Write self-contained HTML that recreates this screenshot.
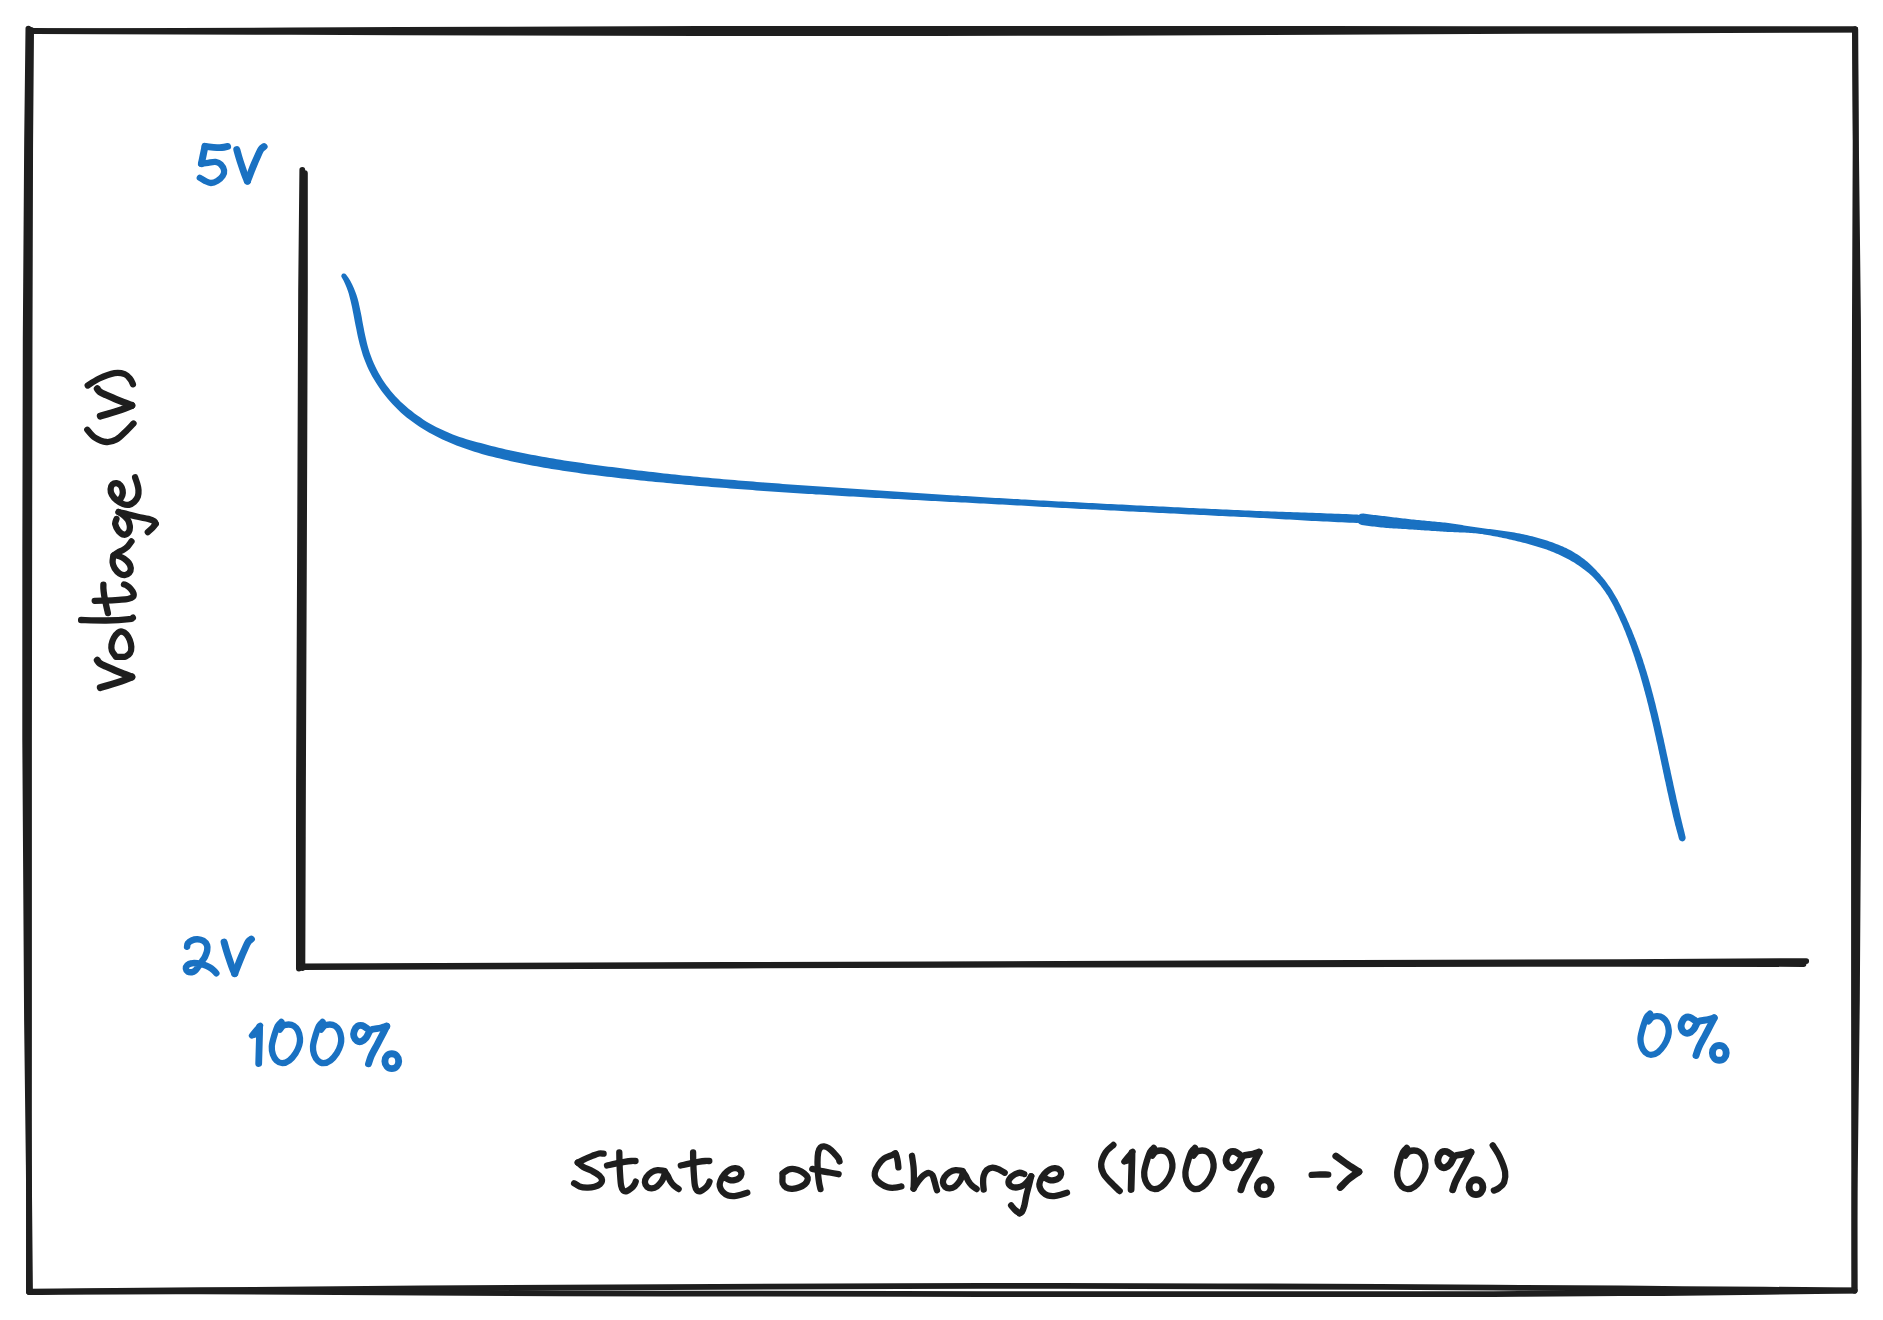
<!DOCTYPE html><html><head><meta charset="utf-8"><title>Voltage vs State of Charge</title><style>html,body{margin:0;padding:0;background:#fff;font-family:"Liberation Sans",sans-serif}body{width:1883px;height:1320px;overflow:hidden}svg{display:block}</style></head><body><svg width="1883" height="1320" viewBox="0 0 1883 1320" role="img" aria-label="Battery discharge curve: Voltage (V) from 5V to 2V versus State of Charge (100% -> 0%)"><rect width="1883" height="1320" fill="#fff"/><g fill="none" stroke="#1e1e1e" stroke-width="5.8" stroke-linecap="round" stroke-linejoin="round"><path d="M29 30.8C40.8 30.9 38.2 31.2 100 31.1C161.8 31 300 30.4 400 30C500 29.6 583.3 29.1 700 28.9C816.7 28.7 971 28.8 1100 28.8C1229 28.8 1348.2 29 1474 29.1C1599.8 29.2 1791.5 29.3 1855 29.3"/><path d="M29.6 31C41.3 31.1 38.3 31.1 100 31.3C161.7 31.5 300 32 400 32.3C500 32.6 583.3 33 700 33.1C816.7 33.2 971 33.1 1100 32.8C1229 32.5 1348.2 31.7 1474 31.1C1599.8 30.6 1791.5 29.8 1855 29.5"/><path d="M1854.9 29.3C1855 47.8 1855.6 91.6 1855.6 140C1855.6 188.4 1855.2 233.3 1854.9 320C1854.7 406.7 1854.2 546.7 1854.1 660C1853.9 773.3 1854 913.3 1854 1000C1854 1086.7 1854.2 1131.6 1854.2 1180C1854.2 1228.4 1854.3 1272 1854.3 1290.4"/><path d="M1855.3 29.5C1855.4 47.9 1855.5 91.6 1855.9 140C1856.4 188.4 1857.5 233.3 1858 320C1858.5 406.7 1859 546.7 1858.8 660C1858.6 773.3 1857.6 913.3 1856.9 1000C1856.2 1086.7 1855.2 1131.6 1854.8 1180C1854.4 1228.4 1854.7 1272.1 1854.7 1290.5"/><path d="M1854.5 1290.3C1825.9 1290.1 1722.1 1289.4 1683 1289.1C1643.9 1288.8 1647.2 1288.5 1620 1288.3C1592.8 1288.1 1560 1288.1 1520 1287.9C1480 1287.7 1456.7 1287.2 1380 1286.9C1303.3 1286.6 1140 1286 1060 1285.9C980 1285.8 983.3 1285.8 900 1286.1C816.7 1286.4 676.7 1286.9 560 1287.6C443.3 1288.3 288.5 1289.5 200 1290.2C111.5 1290.9 57.7 1291.4 29.2 1291.6"/><path d="M1854.5 1290.6C1825.9 1291 1722.1 1292.5 1683 1292.9C1643.9 1293.3 1647.2 1293 1620 1293.2C1592.8 1293.4 1560 1293.7 1520 1293.9C1480 1294.1 1456.7 1294.2 1380 1294.2C1303.3 1294.2 1140 1294.2 1060 1294.2C980 1294.2 983.3 1294.1 900 1293.9C816.7 1293.8 676.7 1293.7 560 1293.3C443.3 1292.9 288.5 1291.5 200 1291.3C111.5 1291.1 57.7 1291.9 29.2 1292"/><path d="M28.4 28.6C28.2 47.2 27.6 88.1 27.1 140C26.7 191.9 26 240 25.7 340C25.4 440 25 626.7 25.2 740C25.4 853.3 26.4 946.7 27 1020C27.6 1093.3 28.6 1134.7 28.9 1180C29.2 1225.3 28.9 1273.2 28.9 1291.8"/><path d="M31.1 30C31 48.3 30.4 88.3 30.2 140C29.9 191.7 29.8 240 29.6 340C29.4 440 29.1 626.7 29 740C28.9 853.3 29 946.7 29 1020C29 1093.3 28.8 1134.7 29 1180C29.2 1225.3 29.8 1273.2 30 1291.8"/><path d="M302.3 169.9C302.1 189.9 301.5 225 301.1 290C300.7 355 300.4 478.3 300 560C299.6 641.7 299.2 711.9 299 780C298.8 848.1 298.9 937.2 298.9 968.6"/><path d="M304.9 173.2C304.9 192.7 305.1 225.5 304.9 290C304.7 354.5 304.2 478.3 303.9 560C303.6 641.7 303.2 712 303 780C302.8 848 302.5 936.7 302.4 968"/><path d="M298.9 966.4C425.8 966 839.8 964.6 1060 963.9C1280.2 963.2 1495.6 962.6 1620 962.1C1744.4 961.6 1775.2 961.3 1806.2 961.1"/><path d="M299.4 967.1C426.2 966.7 839.9 965 1060 964.5C1280.1 964 1496.1 963.9 1620 963.8C1743.9 963.7 1772.9 964 1803.5 964"/></g><path fill="#1971c2" d="M341.8 277.5L343.5 280.6L345 283.8L346.4 287L347.6 290.3L348.7 293.6L349.6 297L350.5 300.5L351.3 304L352.1 307.6L352.8 311.2L353.5 314.8L354.2 318.5L354.9 322.2L355.6 325.8L356.4 329.6L357.1 333.3L357.9 337L358.8 340.7L359.7 344.4L360.7 348.1L361.8 351.8L362.9 355.4L364.2 359L365.6 362.6L367.1 366.2L368.7 369.7L370.4 373.1L372.2 376.5L374.2 379.8L376.2 383.1L378.3 386.3L380.5 389.5L382.7 392.6L385.1 395.6L387.5 398.6L390.1 401.5L392.6 404.3L395.3 407.1L398 409.8L400.8 412.4L403.7 415L406.6 417.4L409.7 419.8L412.8 422.1L415.9 424.3L419.1 426.4L422.3 428.5L425.6 430.4L428.9 432.4L432.3 434.3L435.6 436.1L439 437.8L442.5 439.5L446 441.1L449.5 442.6L453 444L456.5 445.4L460.1 446.8L463.6 448.1L467.2 449.3L470.8 450.5L474.4 451.7L478.1 452.8L481.7 453.9L485.3 454.9L489 455.9L492.6 456.8L496.3 457.7L499.9 458.6L503.6 459.5L507.3 460.3L510.9 461.2L514.6 462L518.3 462.7L522 463.5L525.7 464.2L529.4 465L533.1 465.7L536.7 466.3L540.4 467L544.1 467.7L547.8 468.3L551.6 468.9L555.3 469.5L559 470.1L562.7 470.7L566.4 471.2L570.1 471.8L573.8 472.3L577.5 472.8L581.2 473.4L585 473.9L588.7 474.4L592.4 474.8L596.1 475.3L599.8 475.8L603.5 476.2L607.3 476.7L611 477.1L614.7 477.6L618.4 478L622.1 478.4L625.8 478.8L629.6 479.2L633.3 479.6L637 480L640.7 480.4L644.5 480.8L648.2 481.2L651.9 481.5L655.6 481.9L659.4 482.3L663.1 482.6L666.8 483L670.5 483.3L674.3 483.7L678 484L681.7 484.3L685.4 484.7L689.1 485L692.9 485.3L696.6 485.7L700.3 486L704.1 486.3L707.8 486.6L711.5 486.9L715.2 487.2L719 487.5L722.7 487.8L726.4 488.1L730.1 488.4L733.9 488.7L737.6 489L741.3 489.3L745 489.6L748.8 489.8L752.5 490.1L756.2 490.4L760 490.7L763.7 490.9L767.4 491.2L771.2 491.4L774.9 491.7L778.6 491.9L782.3 492.2L786.1 492.4L789.8 492.7L793.5 492.9L797.3 493.2L801 493.4L804.7 493.7L808.4 493.9L812.2 494.1L815.9 494.4L819.6 494.6L823.4 494.8L827.1 495L830.8 495.3L834.6 495.5L838.3 495.7L842 495.9L845.7 496.2L849.5 496.4L853.2 496.6L856.9 496.8L860.7 497L864.4 497.2L868.1 497.4L871.9 497.7L875.6 497.9L879.3 498.1L883 498.3L886.8 498.5L890.5 498.7L894.2 498.9L898 499.1L901.7 499.3L905.4 499.5L909.2 499.7L912.9 499.9L916.6 500.1L920.4 500.3L924.1 500.5L927.8 500.7L931.5 500.9L935.3 501.1L939 501.3L942.7 501.5L946.5 501.7L950.2 501.9L953.9 502L957.7 502.2L961.4 502.4L965.1 502.6L968.9 502.8L972.6 503L976.3 503.2L980 503.4L983.8 503.6L987.5 503.8L991.2 504L995 504.2L998.7 504.4L1002.4 504.6L1006.2 504.8L1009.9 505L1013.6 505.2L1017.3 505.4L1021.1 505.6L1024.8 505.8L1028.5 506.1L1032.3 506.3L1036 506.5L1039.7 506.7L1043.5 506.9L1047.2 507.1L1050.9 507.3L1054.6 507.5L1058.4 507.7L1062.1 507.9L1065.8 508.1L1069.6 508.3L1073.3 508.5L1077 508.7L1080.8 508.9L1084.5 509.1L1088.2 509.3L1091.9 509.4L1095.7 509.6L1099.4 509.8L1103.1 510L1106.9 510.2L1110.6 510.4L1114.3 510.6L1118.1 510.8L1121.8 511L1125.5 511.2L1129.2 511.4L1133 511.6L1136.7 511.8L1140.4 511.9L1144.2 512.1L1147.9 512.3L1151.6 512.5L1155.4 512.7L1159.1 512.9L1162.8 513.1L1166.6 513.3L1170.3 513.5L1174 513.6L1177.7 513.8L1181.5 514L1185.2 514.2L1188.9 514.4L1192.7 514.6L1196.4 514.8L1200.1 514.9L1203.9 515.1L1207.6 515.3L1211.3 515.5L1215.1 515.7L1218.8 515.9L1222.5 516L1226.2 516.2L1230 516.4L1233.7 516.6L1237.4 516.8L1241.2 517L1244.9 517.1L1248.6 517.3L1252.4 517.5L1256.1 517.7L1259.8 517.9L1263.6 518.1L1267.3 518.3L1271 518.5L1274.7 518.7L1278.5 518.9L1282.2 519.2L1285.9 519.4L1289.7 519.6L1293.4 519.8L1297.1 520L1300.9 520.3L1304.6 520.5L1308.3 520.7L1312 520.9L1315.8 521.1L1319.5 521.3L1323.2 521.4L1327 521.6L1330.7 521.8L1334.4 522L1338.2 522.2L1341.9 522.3L1345.6 522.5L1349.4 522.7L1353.1 522.8L1356.8 523L1358.7 522.7L1360.2 521.6L1361.1 519.9L1361.1 518L1360.4 516.3L1359 515.1L1357.2 514.6L1353.5 514.4L1349.7 514.3L1346 514.1L1342.3 514L1338.5 513.8L1334.8 513.7L1331.1 513.5L1327.3 513.4L1323.6 513.2L1319.9 513.1L1316.1 512.9L1312.4 512.8L1308.7 512.7L1304.9 512.5L1301.2 512.4L1297.5 512.3L1293.7 512.2L1290 512.1L1286.3 511.9L1282.5 511.8L1278.8 511.7L1275.1 511.6L1271.3 511.5L1267.6 511.3L1263.9 511.2L1260.1 511.1L1256.4 510.9L1252.7 510.7L1248.9 510.6L1245.2 510.4L1241.5 510.2L1237.8 510.1L1234 509.9L1230.3 509.8L1226.6 509.6L1222.8 509.4L1219.1 509.2L1215.4 509.1L1211.6 508.9L1207.9 508.7L1204.2 508.6L1200.4 508.4L1196.7 508.2L1193 508L1189.3 507.9L1185.5 507.7L1181.8 507.5L1178.1 507.3L1174.3 507.2L1170.6 507L1166.9 506.8L1163.1 506.6L1159.4 506.4L1155.7 506.3L1152 506.1L1148.2 505.9L1144.5 505.7L1140.8 505.5L1137 505.4L1133.3 505.2L1129.6 505L1125.8 504.8L1122.1 504.6L1118.4 504.4L1114.7 504.2L1110.9 504L1107.2 503.9L1103.5 503.7L1099.7 503.5L1096 503.3L1092.3 503.1L1088.5 502.9L1084.8 502.7L1081.1 502.5L1077.4 502.3L1073.6 502.1L1069.9 501.9L1066.2 501.7L1062.4 501.5L1058.7 501.4L1055 501.2L1051.3 501L1047.5 500.8L1043.8 500.6L1040.1 500.4L1036.3 500.2L1032.6 500L1028.9 499.8L1025.1 499.6L1021.4 499.4L1017.7 499.1L1014 498.9L1010.2 498.7L1006.5 498.5L1002.8 498.3L999 498.1L995.3 497.9L991.6 497.7L987.9 497.5L984.1 497.3L980.4 497L976.7 496.8L972.9 496.6L969.2 496.3L965.5 496.1L961.8 495.9L958 495.6L954.3 495.4L950.6 495.2L946.9 494.9L943.1 494.7L939.4 494.5L935.7 494.2L931.9 494L928.2 493.8L924.5 493.5L920.8 493.3L917 493L913.3 492.8L909.6 492.5L905.9 492.3L902.1 492L898.4 491.8L894.7 491.5L891 491.3L887.2 491L883.5 490.8L879.8 490.5L876.1 490.3L872.3 490L868.6 489.8L864.9 489.5L861.1 489.3L857.4 489L853.7 488.8L850 488.5L846.2 488.3L842.5 488L838.8 487.8L835.1 487.5L831.3 487.3L827.6 487L823.9 486.8L820.2 486.5L816.4 486.3L812.7 486L809 485.8L805.3 485.5L801.5 485.2L797.8 485L794.1 484.7L790.4 484.4L786.6 484.2L782.9 483.9L779.2 483.6L775.5 483.3L771.8 483.1L768 482.8L764.3 482.5L760.6 482.2L756.9 481.9L753.2 481.6L749.4 481.3L745.7 481L742 480.7L738.3 480.4L734.6 480.1L730.8 479.8L727.1 479.5L723.4 479.2L719.7 478.8L716 478.5L712.3 478.2L708.5 477.8L704.8 477.5L701.1 477.2L697.4 476.8L693.7 476.5L690 476.1L686.3 475.7L682.6 475.4L678.9 475L675.1 474.6L671.4 474.2L667.7 473.8L664 473.4L660.3 473L656.6 472.6L652.9 472.1L649.2 471.7L645.5 471.3L641.8 470.8L638.1 470.4L634.4 469.9L630.7 469.5L627 469L623.3 468.6L619.6 468.1L615.9 467.6L612.2 467.1L608.5 466.7L604.8 466.2L601.1 465.7L597.4 465.2L593.7 464.7L590.1 464.2L586.4 463.7L582.7 463.1L579 462.6L575.3 462L571.6 461.5L568 460.9L564.3 460.4L560.6 459.8L556.9 459.2L553.3 458.6L549.6 458L545.9 457.3L542.3 456.7L538.6 456L535 455.3L531.3 454.7L527.7 453.9L524.1 453.2L520.4 452.5L516.8 451.7L513.2 451L509.6 450.2L505.9 449.4L502.3 448.5L498.7 447.7L495.1 446.8L491.5 445.9L487.9 445L484.4 444.1L480.8 443.1L477.2 442.2L473.7 441.2L470.1 440.2L466.6 439.2L463.1 438.1L459.6 436.9L456.2 435.7L452.8 434.4L449.4 433L446 431.6L442.7 430.1L439.4 428.6L436.1 427L432.9 425.3L429.7 423.5L426.6 421.7L423.5 419.7L420.5 417.6L417.5 415.5L414.6 413.4L411.7 411.1L408.9 408.9L406.1 406.5L403.3 404.1L400.7 401.7L398.1 399.1L395.6 396.5L393.2 393.8L390.8 391L388.6 388.1L386.4 385.2L384.3 382.2L382.3 379.2L380.4 376.1L378.6 372.9L376.9 369.7L375.3 366.5L373.8 363.2L372.4 359.9L371.1 356.5L369.8 353.1L368.7 349.6L367.7 346.1L366.8 342.6L366 339L365.2 335.4L364.4 331.8L363.7 328.1L363 324.5L362.3 320.8L361.7 317.1L361 313.4L360.2 309.7L359.4 306L358.6 302.3L357.6 298.6L356.5 295L355.2 291.4L353.8 287.9L352.2 284.4L350.4 281L348.4 277.7L346 274.5L345.2 273.7L344.1 273.4L342.9 273.6L342 274.2L341.4 275.2L341.3 276.4Z"/><path fill="#1971c2" d="M1361.7 525L1363.5 525.3L1365.2 525.5L1367 525.8L1368.8 526L1370.5 526.2L1372.3 526.4L1374.1 526.6L1375.8 526.8L1377.6 527L1379.3 527.2L1381.1 527.4L1382.9 527.6L1384.6 527.7L1386.4 527.9L1388.1 528L1389.9 528.2L1391.7 528.3L1393.4 528.4L1395.2 528.5L1396.9 528.6L1398.7 528.7L1400.5 528.8L1402.2 528.9L1404 529L1405.7 529.1L1407.5 529.3L1409.2 529.4L1411 529.5L1412.7 529.6L1414.5 529.7L1416.2 529.8L1418 530L1419.7 530.1L1421.4 530.2L1423.2 530.3L1424.9 530.4L1426.7 530.5L1428.4 530.6L1430.2 530.8L1431.9 530.9L1433.6 531L1435.4 531.1L1437.1 531.2L1438.8 531.3L1440.6 531.4L1442.3 531.5L1444.1 531.7L1445.8 531.8L1447.5 531.9L1449.3 532L1451 532.1L1452.7 532.1L1454.5 532.2L1456.2 532.3L1458 532.3L1459.7 532.4L1461.4 532.5L1463.2 532.5L1464.9 532.6L1466.7 532.7L1468.4 532.8L1470.1 532.9L1471.9 533L1473.6 533.2L1475.3 533.3L1477.1 533.5L1478.8 533.7L1480.5 533.9L1482.2 534.1L1483.9 534.4L1485.7 534.7L1487.4 535L1489.1 535.2L1490.8 535.6L1492.5 535.9L1494.2 536.2L1495.9 536.5L1497.6 536.8L1499.4 537.2L1501.1 537.5L1502.8 537.9L1504.5 538.2L1506.2 538.6L1507.9 539L1509.6 539.4L1511.3 539.8L1513 540.2L1514.7 540.6L1516.4 541L1518.1 541.4L1519.8 541.8L1521.5 542.3L1523.2 542.7L1524.9 543.1L1526.6 543.5L1528.3 544L1529.9 544.4L1531.6 544.9L1533.3 545.4L1535 545.9L1536.7 546.4L1538.3 546.9L1540 547.4L1541.6 547.9L1543.3 548.5L1544.9 549L1546.6 549.6L1548.2 550.2L1549.8 550.8L1551.4 551.4L1553 552.1L1554.6 552.7L1556.1 553.4L1557.7 554.1L1559.2 554.8L1560.8 555.5L1562.3 556.2L1563.8 557L1565.3 557.7L1566.8 558.5L1568.3 559.3L1569.7 560.1L1571.2 560.9L1572.6 561.8L1574.1 562.6L1575.5 563.5L1576.9 564.4L1578.2 565.3L1579.6 566.3L1581 567.2L1582.3 568.2L1583.7 569.2L1585 570.2L1586.3 571.2L1587.6 572.3L1588.9 573.3L1590.2 574.5L1591.4 575.6L1592.7 576.7L1593.9 577.9L1595 579.2L1596.2 580.4L1597.3 581.7L1598.4 583L1599.5 584.3L1600.6 585.6L1601.6 586.9L1602.6 588.3L1603.6 589.7L1604.6 591.1L1605.6 592.5L1606.5 593.9L1607.5 595.3L1608.4 596.8L1609.2 598.2L1610.1 599.7L1610.9 601.2L1611.8 602.7L1612.6 604.2L1613.4 605.8L1614.2 607.3L1614.9 608.9L1615.7 610.4L1616.5 612L1617.2 613.6L1617.9 615.1L1618.7 616.7L1619.4 618.3L1620.1 619.9L1620.8 621.5L1621.5 623L1622.2 624.6L1622.9 626.2L1623.5 627.8L1624.2 629.4L1624.9 631L1625.5 632.6L1626.1 634.3L1626.8 635.9L1627.4 637.5L1628 639.1L1628.6 640.7L1629.2 642.4L1629.8 644L1630.4 645.6L1631 647.2L1631.6 648.9L1632.1 650.5L1632.7 652.2L1633.3 653.8L1633.8 655.4L1634.4 657.1L1634.9 658.7L1635.4 660.4L1636 662L1636.5 663.7L1637 665.3L1637.5 667L1638.1 668.7L1638.6 670.3L1639.1 672L1639.6 673.6L1640.1 675.3L1640.6 677L1641 678.6L1641.5 680.3L1642 682L1642.5 683.7L1642.9 685.3L1643.4 687L1643.9 688.7L1644.3 690.4L1644.8 692.1L1645.2 693.7L1645.7 695.4L1646.1 697.1L1646.6 698.8L1647 700.5L1647.4 702.2L1647.9 703.9L1648.3 705.6L1648.7 707.3L1649.1 709L1649.5 710.7L1650 712.4L1650.4 714.1L1650.8 715.8L1651.2 717.5L1651.6 719.2L1652 720.9L1652.4 722.6L1652.8 724.3L1653.2 726L1653.6 727.7L1654 729.4L1654.3 731.1L1654.7 732.8L1655.1 734.5L1655.5 736.3L1655.9 738L1656.2 739.7L1656.6 741.4L1657 743.1L1657.4 744.8L1657.8 746.5L1658.1 748.3L1658.5 750L1658.9 751.7L1659.2 753.4L1659.6 755.1L1660 756.8L1660.3 758.6L1660.7 760.3L1661.1 762L1661.4 763.7L1661.8 765.4L1662.2 767.2L1662.5 768.9L1662.9 770.6L1663.2 772.3L1663.6 774L1664 775.8L1664.3 777.5L1664.7 779.2L1665.1 780.9L1665.5 782.6L1665.8 784.3L1666.2 786.1L1666.6 787.8L1666.9 789.5L1667.3 791.2L1667.7 792.9L1668.1 794.6L1668.5 796.4L1668.8 798.1L1669.2 799.8L1669.6 801.5L1670 803.2L1670.4 804.9L1670.8 806.6L1671.2 808.3L1671.6 810L1672 811.8L1672.4 813.5L1672.8 815.2L1673.2 816.9L1673.6 818.6L1674 820.3L1674.5 822L1674.9 823.7L1675.3 825.4L1675.8 827.1L1676.2 828.8L1676.7 830.4L1677.1 832.1L1677.6 833.8L1678.1 835.5L1678.5 837.2L1679 838.9L1679.7 840.2L1680.9 841.1L1682.4 841.4L1683.9 841L1685 840L1685.6 838.6L1685.6 837.1L1685.2 835.4L1684.8 833.8L1684.4 832.1L1684 830.4L1683.6 828.7L1683.1 827L1682.7 825.3L1682.3 823.6L1681.9 821.9L1681.5 820.2L1681.1 818.6L1680.7 816.9L1680.3 815.2L1679.9 813.5L1679.5 811.8L1679.2 810.1L1678.8 808.4L1678.4 806.7L1678 805L1677.6 803.3L1677.2 801.6L1676.8 799.9L1676.4 798.2L1676.1 796.5L1675.7 794.7L1675.3 793L1674.9 791.3L1674.5 789.6L1674.2 787.9L1673.8 786.2L1673.4 784.5L1673.1 782.8L1672.7 781.1L1672.3 779.3L1671.9 777.6L1671.6 775.9L1671.2 774.2L1670.8 772.5L1670.5 770.8L1670.1 769.1L1669.7 767.3L1669.3 765.6L1669 763.9L1668.6 762.2L1668.2 760.5L1667.9 758.7L1667.5 757L1667.1 755.3L1666.7 753.6L1666.4 751.9L1666 750.1L1665.6 748.4L1665.3 746.7L1664.9 745L1664.5 743.3L1664.1 741.5L1663.8 739.8L1663.4 738.1L1663 736.4L1662.6 734.7L1662.2 732.9L1661.8 731.2L1661.5 729.5L1661.1 727.8L1660.7 726.1L1660.3 724.4L1659.9 722.6L1659.5 720.9L1659.1 719.2L1658.7 717.5L1658.3 715.8L1657.9 714.1L1657.5 712.4L1657 710.6L1656.6 708.9L1656.2 707.2L1655.8 705.5L1655.4 703.8L1654.9 702.1L1654.5 700.4L1654.1 698.7L1653.6 697L1653.2 695.3L1652.7 693.6L1652.3 691.9L1651.8 690.2L1651.4 688.5L1650.9 686.8L1650.4 685.1L1650 683.4L1649.5 681.7L1649 680L1648.5 678.3L1648 676.6L1647.5 674.9L1647 673.2L1646.5 671.6L1646 669.9L1645.4 668.2L1644.9 666.5L1644.4 664.8L1643.8 663.2L1643.3 661.5L1642.8 659.8L1642.2 658.1L1641.6 656.5L1641.1 654.8L1640.5 653.2L1639.9 651.5L1639.3 649.8L1638.7 648.2L1638.1 646.5L1637.5 644.9L1636.9 643.2L1636.3 641.6L1635.6 639.9L1635 638.3L1634.3 636.7L1633.7 635L1633 633.4L1632.4 631.8L1631.7 630.1L1631 628.5L1630.3 626.9L1629.6 625.3L1628.9 623.6L1628.2 622L1627.5 620.4L1626.8 618.8L1626.1 617.2L1625.3 615.6L1624.6 614L1623.8 612.4L1623.1 610.8L1622.3 609.2L1621.5 607.6L1620.8 606L1620 604.4L1619.1 602.8L1618.3 601.2L1617.5 599.6L1616.6 598.1L1615.7 596.5L1614.8 594.9L1613.9 593.4L1613 591.9L1612 590.3L1611 588.8L1610 587.3L1609 585.9L1607.9 584.4L1606.9 582.9L1605.8 581.5L1604.7 580.1L1603.6 578.7L1602.4 577.3L1601.2 575.9L1600.1 574.6L1598.9 573.3L1597.6 571.9L1596.4 570.6L1595.2 569.3L1593.9 568L1592.7 566.7L1591.4 565.5L1590.1 564.2L1588.7 563L1587.4 561.8L1586 560.7L1584.6 559.5L1583.2 558.4L1581.7 557.4L1580.2 556.3L1578.7 555.3L1577.2 554.3L1575.7 553.4L1574.2 552.4L1572.6 551.5L1571 550.6L1569.4 549.8L1567.8 548.9L1566.2 548.1L1564.6 547.4L1562.9 546.6L1561.3 545.9L1559.6 545.2L1557.9 544.5L1556.2 543.9L1554.5 543.2L1552.8 542.6L1551.1 542L1549.4 541.4L1547.7 540.8L1546 540.3L1544.3 539.7L1542.5 539.2L1540.8 538.7L1539 538.2L1537.3 537.7L1535.6 537.2L1533.8 536.8L1532.1 536.3L1530.3 535.9L1528.6 535.5L1526.8 535.1L1525.1 534.7L1523.3 534.3L1521.6 533.9L1519.8 533.6L1518 533.2L1516.3 532.9L1514.5 532.6L1512.8 532.3L1511 532L1509.3 531.7L1507.5 531.5L1505.8 531.2L1504 530.9L1502.2 530.7L1500.5 530.4L1498.7 530.2L1497 530L1495.2 529.7L1493.5 529.5L1491.7 529.3L1490 529.1L1488.2 528.9L1486.5 528.7L1484.8 528.5L1483 528.3L1481.3 528L1479.5 527.8L1477.8 527.6L1476 527.3L1474.3 527.1L1472.6 526.8L1470.8 526.5L1469.1 526.2L1467.4 526L1465.7 525.7L1463.9 525.4L1462.2 525.1L1460.5 524.8L1458.7 524.5L1457 524.2L1455.3 524L1453.5 523.7L1451.8 523.5L1450.1 523.2L1448.3 523L1446.6 522.8L1444.8 522.6L1443.1 522.4L1441.4 522.3L1439.6 522.1L1437.9 521.9L1436.1 521.7L1434.4 521.6L1432.7 521.4L1430.9 521.2L1429.2 521L1427.4 520.9L1425.7 520.7L1424 520.5L1422.2 520.4L1420.5 520.2L1418.8 520L1417 519.9L1415.3 519.7L1413.5 519.5L1411.8 519.4L1410.1 519.2L1408.3 519L1406.6 518.8L1404.9 518.6L1403.1 518.4L1401.4 518.2L1399.7 518L1397.9 517.8L1396.2 517.6L1394.5 517.4L1392.7 517.2L1391 517L1389.3 516.7L1387.5 516.5L1385.8 516.3L1384.1 516.1L1382.4 515.9L1380.6 515.7L1378.9 515.5L1377.2 515.3L1375.4 515.1L1373.7 514.9L1372 514.7L1370.2 514.5L1368.5 514.2L1366.8 514L1365 513.8L1363.3 513.6L1360.7 513.8L1358.5 515.1L1357.1 517.2L1356.7 519.8L1357.5 522.3L1359.3 524.1Z"/><g fill="none" color="#1971c2" stroke="#1971c2" stroke-width="6.3" stroke-linecap="round" stroke-linejoin="round"><path d="M227.7 146.4C226.7 146.6 224.2 147.3 221.8 147.5C219.5 147.7 216.4 147.5 213.6 147.3C210.8 147.1 206.4 146.6 205 146.4" stroke-width="6.8"/><path d="M205 146.4C204.7 147.8 203.8 152.1 203.2 155C202.6 157.9 201.7 162.2 201.4 163.6" stroke-width="7"/><path d="M201.4 163.6C202.5 163.5 205.8 163.1 208.2 162.8C210.5 162.5 213.4 161.6 215.5 161.9C217.6 162.2 219.5 163.1 220.9 164.5C222.3 165.9 223.8 168.6 224.1 170.5C224.4 172.4 223.8 174.2 222.7 175.9C221.6 177.6 219.3 179.7 217.3 180.9C215.3 182.1 213 183 210.9 183C208.8 183 206.8 181.8 205 180.9C203.2 180 200.7 178.2 199.8 177.7" stroke-width="6.3"/><path d="M236.8 149.6C237.1 150.7 237.9 153.7 238.7 156.4C239.5 159.1 240.7 162.9 241.7 165.9C242.7 168.9 243.8 172.1 244.7 174.6C245.6 177.1 246.9 180 247.4 181.1" stroke-width="7"/><path d="M247.4 181.1C247.9 179.8 249.3 176.3 250.4 173.5C251.5 170.7 252.9 167 254.2 164C255.5 161 256.9 157.8 258 155.3C259.1 152.8 260 150.6 261 149.2C262 147.8 263.6 147 264.1 146.6" stroke-width="7"/></g><g fill="none" color="#1971c2" stroke="#1971c2" stroke-width="6.3" stroke-linecap="round" stroke-linejoin="round"><path d="M187.1 946.7C187.2 946.1 187.1 944.3 187.9 943.3C188.7 942.2 190.1 941.1 191.7 940.4C193.3 939.7 195.6 939.1 197.5 939.2C199.4 939.3 201.7 939.8 203.3 940.8C204.9 941.8 206.5 943.7 207.1 945.4C207.7 947.1 207.4 948.9 207.1 950.8C206.8 952.7 205.9 954.9 205 956.7C204.1 958.5 202.8 960 201.7 961.7C200.6 963.4 199.4 965.2 198.3 966.7C197.2 968.2 196.1 969.9 195 970.8C193.9 971.7 192.9 972.1 191.7 972.3C190.5 972.4 188.9 972.3 187.9 971.7C186.9 971.1 186 969.8 185.9 968.8C185.8 967.8 186.1 966.3 187.1 965.4C188.1 964.5 190 963.6 191.7 963.3C193.4 962.9 195.6 963.1 197.5 963.3C199.4 963.5 201.4 964 203.3 964.6C205.2 965.2 207.4 966.1 209.2 967.1C210.9 968.1 212.6 969.4 213.8 970.4C215 971.4 215.9 972.8 216.3 973.3" stroke-width="6.5"/><path d="M224.1 942.1C224.4 943.2 225.2 946.2 226 948.9C226.8 951.6 228 955.4 229 958.4C230 961.4 231.1 964.6 232 967.1C232.9 969.6 234.2 972.5 234.7 973.6" stroke-width="7"/><path d="M234.7 973.6C235.2 972.3 236.6 968.9 237.7 966C238.8 963.1 240.2 959.5 241.5 956.5C242.8 953.5 244.2 950.3 245.3 947.8C246.4 945.3 247.3 943.2 248.3 941.7C249.3 940.2 250.9 939.5 251.4 939.1" stroke-width="7"/></g><g fill="none" color="#1971c2" stroke="#1971c2" stroke-width="6.3" stroke-linecap="round" stroke-linejoin="round"><path d="M260.4 1025.4C259.5 1026.3 256.7 1029.3 255.2 1031C253.7 1032.7 252.2 1034.9 251.6 1035.7" stroke-width="5.6"/><path d="M259.6 1026.6C259.6 1029.2 259.5 1036.1 259.3 1042.3C259.1 1048.5 258.8 1060 258.7 1063.5" stroke-width="6.8"/><path d="M260.5 1023.5L250.2 1036L253.5 1038.2L258 1037L261.5 1030Z" stroke="none" fill="currentColor"/><path d="M281.4 1021.9C280.8 1022.6 278.9 1023.6 277.7 1025.9C276.5 1028.2 275.3 1032.1 274.3 1035.5C273.3 1038.9 272 1043.2 271.8 1046.4C271.6 1049.6 272.1 1052.2 272.9 1054.5C273.7 1056.8 274.9 1059 276.5 1060.5C278.1 1062 280.1 1063.2 282.2 1063.2C284.3 1063.2 287.1 1062.2 289.3 1060.5C291.5 1058.8 293.9 1055.8 295.6 1053.2C297.3 1050.6 298.6 1047.5 299.3 1045C300 1042.5 300.2 1040.6 300 1038.2C299.8 1035.8 298.9 1032.5 297.9 1030.5C296.9 1028.5 295.4 1026.9 293.8 1025.9C292.2 1024.9 290.3 1024.5 288.6 1024.5C286.9 1024.5 284.9 1024.8 283.5 1025.6C282.1 1026.4 280.5 1028.9 279.9 1029.6"/><path d="M322.6 1021.9C322 1022.6 320.1 1023.6 318.9 1025.9C317.7 1028.2 316.5 1032.1 315.5 1035.5C314.5 1038.9 313.2 1043.2 313 1046.4C312.8 1049.6 313.3 1052.2 314.1 1054.5C314.9 1056.8 316.1 1059 317.7 1060.5C319.2 1062 321.3 1063.2 323.4 1063.2C325.5 1063.2 328.3 1062.2 330.5 1060.5C332.7 1058.8 335.1 1055.8 336.8 1053.2C338.5 1050.6 339.8 1047.5 340.5 1045C341.2 1042.5 341.4 1040.6 341.2 1038.2C341 1035.8 340.1 1032.5 339.1 1030.5C338.1 1028.5 336.6 1026.9 335 1025.9C333.4 1024.9 331.5 1024.5 329.8 1024.5C328.1 1024.5 326.1 1024.8 324.7 1025.6C323.2 1026.4 321.7 1028.9 321.1 1029.6"/><path d="M367.3 1028.6C366.5 1028.1 364 1026 362.4 1025.6C360.8 1025.2 359 1025.3 357.6 1026.2C356.2 1027.1 354.8 1029.4 354.2 1031.1C353.6 1032.8 353.4 1034.9 353.9 1036.5C354.4 1038.1 355.8 1040 357 1040.8C358.2 1041.6 359.7 1041.9 361.2 1041.4C362.7 1040.9 364.7 1039.4 366.1 1037.7C367.5 1036 368.6 1032.5 369.7 1031.1C370.8 1029.7 370.9 1029.7 372.7 1029.2C374.5 1028.7 378.3 1028.5 380.6 1028C382.9 1027.5 385.7 1026.5 386.7 1026.2" stroke-width="6.9"/><path d="M386.7 1026.2C386.2 1027.2 385.1 1029.4 383.6 1032.3C382.1 1035.2 379.6 1040 377.6 1043.8C375.6 1047.6 373 1052 371.5 1055.3C370 1058.6 369 1062.4 368.5 1063.8" stroke-width="6.9"/><ellipse cx="391.8" cy="1061.2" rx="6.9" ry="7.4" stroke-width="6.9"/></g><g fill="none" color="#1971c2" stroke="#1971c2" stroke-width="6.3" stroke-linecap="round" stroke-linejoin="round"><path d="M1650.1 1013.6C1649.5 1014.3 1647.6 1015.3 1646.4 1017.6C1645.2 1019.9 1644 1023.8 1643 1027.2C1642 1030.6 1640.7 1034.9 1640.5 1038.1C1640.3 1041.3 1640.8 1043.9 1641.6 1046.2C1642.4 1048.5 1643.7 1050.8 1645.2 1052.2C1646.8 1053.7 1648.8 1054.9 1650.9 1054.9C1653 1054.9 1655.8 1053.9 1658 1052.2C1660.2 1050.5 1662.6 1047.5 1664.3 1044.9C1666 1042.3 1667.3 1039.2 1668 1036.7C1668.7 1034.2 1668.9 1032.3 1668.7 1029.9C1668.5 1027.5 1667.6 1024.2 1666.6 1022.2C1665.6 1020.2 1664 1018.6 1662.5 1017.6C1661 1016.6 1659 1016.3 1657.3 1016.2C1655.6 1016.1 1653.7 1016.4 1652.2 1017.3C1650.8 1018.1 1649.2 1020.6 1648.6 1021.3"/><path d="M1694.8 1020.3C1694 1019.8 1691.5 1017.7 1689.9 1017.3C1688.3 1016.9 1686.5 1017 1685.1 1017.9C1683.7 1018.8 1682.3 1021.1 1681.7 1022.8C1681.1 1024.5 1680.9 1026.6 1681.4 1028.2C1681.9 1029.8 1683.3 1031.7 1684.5 1032.5C1685.7 1033.3 1687.2 1033.6 1688.7 1033.1C1690.2 1032.6 1692.2 1031.1 1693.6 1029.4C1695 1027.7 1696.1 1024.2 1697.2 1022.8C1698.3 1021.4 1698.4 1021.4 1700.2 1020.9C1702 1020.4 1705.8 1020.2 1708.1 1019.7C1710.4 1019.2 1713.2 1018.2 1714.2 1017.9" stroke-width="6.9"/><path d="M1714.2 1017.9C1713.7 1018.9 1712.6 1021.1 1711.1 1024C1709.6 1026.9 1707.1 1031.7 1705.1 1035.5C1703.1 1039.3 1700.5 1043.7 1699 1047C1697.5 1050.3 1696.5 1054.1 1696 1055.5" stroke-width="6.9"/><ellipse cx="1719.3" cy="1052.9" rx="6.9" ry="7.4" stroke-width="6.9"/></g><g fill="none" color="#1e1e1e" stroke="#1e1e1e" stroke-width="6.3" stroke-linecap="round" stroke-linejoin="round"><path d="M603.6 1153.7C602.9 1153.7 601 1153.1 599.1 1153.5C597.2 1153.9 594.9 1154.9 592.3 1155.9C589.6 1157 585.6 1158.7 583.2 1159.8C580.8 1160.9 578.7 1162.1 577.8 1162.6"/><path d="M577.8 1162.6C578.7 1163.3 580.8 1165.6 583.2 1167C585.6 1168.4 589.6 1169.6 592.3 1171.1C595 1172.5 597.9 1174.2 599.5 1175.7C601.1 1177.2 601.9 1178.6 602 1180C602.1 1181.4 601.2 1183 600 1184.1C598.8 1185.2 596.7 1186.2 594.5 1186.8C592.3 1187.4 589.3 1187.7 586.8 1187.6C584.3 1187.5 581.6 1187.1 579.5 1186.4C577.4 1185.7 575 1183.7 574.1 1183.2"/><path d="M619.3 1152.3C619.3 1154 619.4 1158.7 619.5 1162.7C619.6 1166.7 619.9 1172.6 620.2 1176.4C620.5 1180.2 620.6 1183.2 621.1 1185.5C621.6 1187.8 622.2 1189.6 623.2 1190.5C624.2 1191.4 625.4 1191.5 626.8 1191.1C628.2 1190.7 630.1 1189.3 631.4 1188.2C632.7 1187.1 633.8 1185.6 634.5 1184.5C635.2 1183.4 635.5 1182.1 635.7 1181.6"/><path d="M607 1165.5C608.4 1165.2 612.6 1164.2 615.5 1163.6C618.4 1163 621.9 1162.2 624.5 1161.8C627.1 1161.4 629.6 1161.1 631.4 1161C633.2 1160.9 634.8 1161 635.5 1161"/><path d="M664.2 1170.9C663.1 1170.8 659.8 1170 657.7 1170.2C655.6 1170.4 653.6 1171 651.7 1172.2C649.8 1173.4 647.5 1175.5 646.4 1177.2C645.3 1178.9 644.8 1180.7 644.9 1182.3C645 1183.9 646 1185.8 647.1 1186.8C648.2 1187.8 650.1 1188.5 651.7 1188.4C653.4 1188.3 655.4 1187.6 657 1186.4C658.6 1185.2 660.3 1183.2 661.5 1181.5C662.7 1179.8 663.4 1177.8 664 1176.2C664.6 1174.6 664.8 1172.5 664.9 1171.7"/><path d="M664.9 1171.7C665.4 1172.3 666.7 1174.1 667.6 1175.6C668.5 1177.1 669.2 1179.2 670.2 1180.8C671.2 1182.4 672.2 1183.9 673.6 1185.3C675 1186.7 677.8 1188.5 678.6 1189.1"/><path d="M693.1 1152.3C693.1 1154 693.1 1158.7 693.3 1162.7C693.4 1166.7 693.7 1172.6 694 1176.4C694.3 1180.2 694.4 1183.2 694.9 1185.5C695.4 1187.8 696 1189.6 697 1190.5C698 1191.4 699.2 1191.5 700.6 1191.1C702 1190.7 703.9 1189.3 705.2 1188.2C706.5 1187.1 707.6 1185.6 708.3 1184.5C709 1183.4 709.3 1182.1 709.5 1181.6"/><path d="M680.8 1165.5C682.2 1165.2 686.4 1164.2 689.3 1163.6C692.2 1163 695.6 1162.2 698.3 1161.8C700.9 1161.4 703.4 1161.1 705.2 1161C707 1160.9 708.6 1161 709.3 1161"/><path d="M724.5 1177.3C725.3 1177.8 727.8 1179.5 729.5 1180C731.2 1180.5 732.9 1180.5 734.5 1180.2C736.1 1179.9 738 1179.2 739.1 1178.2C740.2 1177.2 741.2 1175.5 741.4 1174.1C741.5 1172.7 741 1171 740 1170C739 1169 737.2 1168.3 735.5 1168.2C733.8 1168.1 731.8 1168.5 730 1169.5C728.2 1170.5 726.1 1172.2 724.5 1174.1C722.9 1176 721.3 1178.9 720.5 1180.9C719.7 1183 719.4 1184.6 719.8 1186.4C720.2 1188.2 721.3 1190.3 722.7 1191.8C724.1 1193.3 726.2 1194.8 728.2 1195.5C730.2 1196.2 732.4 1196.2 734.5 1196.1C736.6 1196 738.8 1195.4 740.9 1194.8C743 1194.2 746.2 1193 747.3 1192.7"/><path d="M782.5 1173.6C783.5 1172.9 786.6 1170.2 788.6 1169.5C790.6 1168.8 792.4 1168.8 794.5 1169.1C796.6 1169.4 799.4 1170.3 801.4 1171.4C803.4 1172.5 805.8 1174.6 806.8 1175.9C807.8 1177.2 808 1178.1 807.7 1179.5C807.4 1180.9 806.4 1182.8 805 1184.1C803.6 1185.4 801.6 1186.5 799.5 1187.3C797.4 1188.1 794.5 1188.8 792.3 1188.9C790.1 1189 788 1188.7 786.4 1187.7C784.8 1186.8 783.4 1184.8 782.7 1183.2C782.1 1181.6 782.5 1179.8 782.5 1178.2C782.5 1176.6 782.5 1174.4 782.5 1173.6"/><path d="M839.5 1161.4C839.3 1160.9 839.3 1159.6 838.4 1158.2C837.5 1156.8 835.7 1154.9 834.1 1153.2C832.5 1151.5 830.3 1149.3 828.6 1148.2C826.9 1147.1 825.5 1146.5 824.1 1146.4C822.8 1146.3 821.5 1146.4 820.5 1147.4C819.5 1148.4 818.7 1149.8 818.2 1152.3C817.7 1154.8 817.5 1158.8 817.5 1162.3C817.5 1165.8 817.7 1170.2 818 1173.6C818.3 1177 818.7 1180.1 819.1 1182.7C819.5 1185.3 820.3 1188 820.5 1189.1"/><path d="M812.3 1168.9C813.7 1169.2 817.6 1170.3 820.5 1170.9C823.4 1171.5 826.5 1172 829.5 1172.5C832.5 1173 837.1 1173.9 838.6 1174.2"/><path d="M898.4 1167.3C898.3 1166.4 898.1 1163.6 897.8 1161.8C897.5 1160 897 1157.8 896.6 1156.4C896.2 1155 895.6 1153.9 895.4 1153.4"/><path d="M895.4 1153.4C894.6 1153.8 892.4 1154.8 890.5 1155.7C888.6 1156.6 886.1 1157.1 884.1 1158.6C882.1 1160.1 880.2 1162.2 878.6 1164.5C877 1166.8 875.2 1170.3 874.8 1172.7C874.3 1175.1 874.9 1177.3 875.9 1179.1C876.9 1180.9 878.5 1182.2 880.5 1183.6C882.5 1185 885.3 1186.6 887.7 1187.3C890.1 1188 892.7 1187.8 895 1187.7C897.3 1187.6 900.3 1186.6 901.4 1186.4"/><path d="M912 1155.8C912.3 1157.8 913.3 1163.8 913.6 1167.7C913.9 1171.6 913.9 1175.6 913.9 1179.1C913.9 1182.6 913.6 1187 913.6 1188.6"/><path d="M913.6 1188.6C914.3 1187.5 916.2 1184.1 917.7 1182.1C919.2 1180.1 920.9 1177.8 922.3 1176.4C923.7 1175 925 1174.4 926.1 1173.8C927.2 1173.2 928 1172.8 929.1 1173C930.2 1173.2 931.6 1174 932.5 1175.3C933.4 1176.6 933.8 1179.1 934.4 1181C935 1182.9 935.5 1185.2 935.9 1186.7C936.3 1188.2 936.8 1189.7 937 1190.3"/><path d="M962.2 1170.9C961.1 1170.8 957.8 1170 955.7 1170.2C953.6 1170.4 951.6 1171 949.7 1172.2C947.8 1173.4 945.5 1175.5 944.4 1177.2C943.3 1178.9 942.8 1180.7 942.9 1182.3C943 1183.9 944 1185.8 945.1 1186.8C946.2 1187.8 948.1 1188.5 949.7 1188.4C951.4 1188.3 953.4 1187.6 955 1186.4C956.6 1185.2 958.3 1183.2 959.5 1181.5C960.7 1179.8 961.4 1177.8 962 1176.2C962.6 1174.6 962.8 1172.5 962.9 1171.7"/><path d="M962.9 1171.7C963.4 1172.3 964.7 1174.1 965.6 1175.6C966.5 1177.1 967.2 1179.2 968.2 1180.8C969.2 1182.4 970.2 1183.9 971.6 1185.3C973 1186.7 975.8 1188.5 976.6 1189.1"/><path d="M983.7 1189.5C983.6 1188.3 983.1 1184.8 983.1 1182.6C983.1 1180.4 983 1178.3 983.6 1176.2C984.2 1174.1 985.2 1171.5 986.7 1170.1C988.2 1168.7 990.5 1167.7 992.5 1167.6C994.5 1167.5 996.9 1168.5 998.9 1169.4C1000.9 1170.3 1003.7 1172.2 1004.7 1172.8"/><path d="M1024.3 1174.1C1023.4 1173.9 1021 1172.4 1019 1172.8C1017 1173.2 1013.9 1174.8 1012.1 1176.2C1010.4 1177.7 1008.7 1179.8 1008.5 1181.5C1008.3 1183.2 1009.6 1185.3 1011.1 1186.3C1012.6 1187.3 1015.3 1187.6 1017.4 1187.4C1019.5 1187.2 1021.9 1186.4 1023.8 1185.2C1025.6 1184 1027.3 1182 1028.5 1180.5C1029.7 1179 1030.8 1176.9 1031.2 1176.2"/><path d="M1031.2 1176.2C1030.8 1177.6 1029.9 1181.5 1029.1 1184.7C1028.3 1187.9 1027.2 1191.8 1026.4 1195.3C1025.6 1198.8 1025 1203.1 1024.3 1205.9C1023.5 1208.7 1022.7 1210.8 1021.9 1212C1021.1 1213.2 1019.9 1213.1 1019.5 1213.3"/><path d="M1019.5 1213.3C1018.8 1212.8 1016.7 1211.4 1015.3 1210.1C1013.9 1208.8 1011.8 1206.2 1011.1 1205.4"/><path d="M1044.2 1177.3C1045 1177.8 1047.5 1179.5 1049.2 1180C1050.9 1180.5 1052.6 1180.5 1054.2 1180.2C1055.8 1179.9 1057.7 1179.2 1058.8 1178.2C1059.9 1177.2 1060.9 1175.5 1061.1 1174.1C1061.2 1172.7 1060.7 1171 1059.7 1170C1058.7 1169 1056.9 1168.3 1055.2 1168.2C1053.5 1168.1 1051.5 1168.5 1049.7 1169.5C1047.9 1170.5 1045.8 1172.2 1044.2 1174.1C1042.6 1176 1041 1178.9 1040.2 1180.9C1039.4 1183 1039.1 1184.6 1039.5 1186.4C1039.9 1188.2 1041 1190.3 1042.4 1191.8C1043.8 1193.3 1045.9 1194.8 1047.9 1195.5C1049.9 1196.2 1052.1 1196.2 1054.2 1196.1C1056.3 1196 1058.5 1195.4 1060.6 1194.8C1062.7 1194.2 1065.9 1193 1067 1192.7"/><path d="M1113.4 1144.9C1112.1 1146.2 1107.6 1149.3 1105.6 1152.5C1103.6 1155.7 1101.5 1160.4 1101.2 1164C1100.9 1167.6 1102 1170.9 1103.7 1174C1105.4 1177.1 1108.5 1180 1111.2 1182.8C1113.9 1185.6 1118.3 1189.7 1119.7 1191.1"/><path d="M1132.8 1151.4C1131.9 1152.3 1129.1 1155.3 1127.6 1157C1126.1 1158.7 1124.6 1160.9 1124 1161.7" stroke-width="5.6"/><path d="M1132 1152.6C1132 1155.2 1131.9 1162.1 1131.7 1168.3C1131.5 1174.5 1131.2 1186 1131.1 1189.5" stroke-width="6.8"/><path d="M1132.9 1149.5L1122.6 1162L1125.9 1164.2L1130.4 1163L1133.9 1156Z" stroke="none" fill="currentColor"/><path d="M1153.8 1147.9C1153.2 1148.6 1151.3 1149.6 1150.1 1151.9C1148.9 1154.2 1147.7 1158.1 1146.7 1161.5C1145.7 1164.9 1144.4 1169.2 1144.2 1172.4C1144 1175.6 1144.5 1178.2 1145.3 1180.5C1146.1 1182.8 1147.4 1185 1148.9 1186.5C1150.5 1188 1152.5 1189.2 1154.6 1189.2C1156.7 1189.2 1159.5 1188.2 1161.7 1186.5C1163.9 1184.8 1166.3 1181.8 1168 1179.2C1169.7 1176.6 1171 1173.5 1171.7 1171C1172.4 1168.5 1172.6 1166.6 1172.4 1164.2C1172.2 1161.8 1171.3 1158.5 1170.3 1156.5C1169.3 1154.5 1167.8 1152.9 1166.2 1151.9C1164.7 1150.9 1162.7 1150.5 1161 1150.5C1159.3 1150.5 1157.4 1150.8 1155.9 1151.6C1154.5 1152.4 1152.9 1154.9 1152.3 1155.6"/><path d="M1195 1147.9C1194.4 1148.6 1192.5 1149.6 1191.3 1151.9C1190.1 1154.2 1188.9 1158.1 1187.9 1161.5C1186.9 1164.9 1185.6 1169.2 1185.4 1172.4C1185.2 1175.6 1185.7 1178.2 1186.5 1180.5C1187.3 1182.8 1188.5 1185 1190.1 1186.5C1191.6 1188 1193.7 1189.2 1195.8 1189.2C1197.9 1189.2 1200.7 1188.2 1202.9 1186.5C1205.1 1184.8 1207.5 1181.8 1209.2 1179.2C1210.9 1176.6 1212.2 1173.5 1212.9 1171C1213.6 1168.5 1213.8 1166.6 1213.6 1164.2C1213.4 1161.8 1212.5 1158.5 1211.5 1156.5C1210.5 1154.5 1209 1152.9 1207.4 1151.9C1205.9 1150.9 1203.9 1150.5 1202.2 1150.5C1200.5 1150.5 1198.5 1150.8 1197.1 1151.6C1195.6 1152.4 1194.1 1154.9 1193.5 1155.6"/><path d="M1239.7 1154.6C1238.9 1154.1 1236.4 1152 1234.8 1151.6C1233.2 1151.2 1231.4 1151.3 1230 1152.2C1228.6 1153.1 1227.2 1155.4 1226.6 1157.1C1226 1158.8 1225.8 1160.9 1226.3 1162.5C1226.8 1164.1 1228.2 1166 1229.4 1166.8C1230.6 1167.6 1232.1 1167.9 1233.6 1167.4C1235.1 1166.9 1237.1 1165.4 1238.5 1163.7C1239.9 1162 1241 1158.5 1242.1 1157.1C1243.2 1155.7 1243.3 1155.7 1245.1 1155.2C1246.9 1154.7 1250.7 1154.5 1253 1154C1255.3 1153.5 1258.1 1152.5 1259.1 1152.2" stroke-width="6.9"/><path d="M1259.1 1152.2C1258.6 1153.2 1257.5 1155.4 1256 1158.3C1254.5 1161.2 1252 1166 1250 1169.8C1248 1173.6 1245.4 1178 1243.9 1181.3C1242.4 1184.6 1241.4 1188.4 1240.9 1189.8" stroke-width="6.9"/><ellipse cx="1264.2" cy="1187.2" rx="6.9" ry="7.4" stroke-width="6.9"/><path d="M1311.7 1174.9C1313.1 1174.8 1317.2 1174.5 1320 1174.4C1322.8 1174.4 1326.8 1174.6 1328.2 1174.6" stroke-width="6.4"/><path d="M1335.9 1156.1C1337.8 1157.5 1343.6 1161.8 1347.4 1164.4C1351.2 1167 1356.9 1170.6 1358.8 1171.8" stroke-width="7"/><path d="M1358.8 1171.8C1357.1 1173 1351.7 1176.5 1348.6 1179.1C1345.5 1181.7 1341.7 1186 1340.3 1187.4" stroke-width="7"/><path d="M1406.8 1147.9C1406.2 1148.6 1404.3 1149.6 1403.1 1151.9C1401.9 1154.2 1400.7 1158.1 1399.7 1161.5C1398.7 1164.9 1397.4 1169.2 1397.2 1172.4C1397 1175.6 1397.5 1178.2 1398.3 1180.5C1399.1 1182.8 1400.4 1185 1401.9 1186.5C1403.5 1188 1405.5 1189.2 1407.6 1189.2C1409.7 1189.2 1412.5 1188.2 1414.7 1186.5C1416.9 1184.8 1419.3 1181.8 1421 1179.2C1422.7 1176.6 1424 1173.5 1424.7 1171C1425.4 1168.5 1425.6 1166.6 1425.4 1164.2C1425.2 1161.8 1424.3 1158.5 1423.3 1156.5C1422.3 1154.5 1420.8 1152.9 1419.2 1151.9C1417.7 1150.9 1415.7 1150.5 1414 1150.5C1412.3 1150.5 1410.4 1150.8 1408.9 1151.6C1407.5 1152.4 1405.9 1154.9 1405.3 1155.6"/><path d="M1451.5 1154.6C1450.7 1154.1 1448.2 1152 1446.6 1151.6C1445 1151.2 1443.2 1151.3 1441.8 1152.2C1440.4 1153.1 1439 1155.4 1438.4 1157.1C1437.8 1158.8 1437.6 1160.9 1438.1 1162.5C1438.6 1164.1 1440 1166 1441.2 1166.8C1442.4 1167.6 1443.9 1167.9 1445.4 1167.4C1446.9 1166.9 1448.9 1165.4 1450.3 1163.7C1451.7 1162 1452.8 1158.5 1453.9 1157.1C1455 1155.7 1455.1 1155.7 1456.9 1155.2C1458.7 1154.7 1462.5 1154.5 1464.8 1154C1467.1 1153.5 1469.9 1152.5 1470.9 1152.2" stroke-width="6.9"/><path d="M1470.9 1152.2C1470.4 1153.2 1469.3 1155.4 1467.8 1158.3C1466.3 1161.2 1463.8 1166 1461.8 1169.8C1459.8 1173.6 1457.2 1178 1455.7 1181.3C1454.2 1184.6 1453.2 1188.4 1452.7 1189.8" stroke-width="6.9"/><ellipse cx="1476" cy="1187.2" rx="6.9" ry="7.4" stroke-width="6.9"/><path d="M1492.7 1145.3C1493.9 1147.2 1497.6 1152.3 1499.7 1156.8C1501.8 1161.3 1504.4 1167.8 1505.1 1172.1C1505.8 1176.3 1505.1 1179.6 1504.1 1182.3C1503.1 1185 1500.7 1186.6 1499 1188C1497.3 1189.4 1494.8 1190.1 1493.9 1190.5"/></g><g fill="none" color="#1e1e1e" stroke="#1e1e1e" stroke-width="6.3" stroke-linecap="round" stroke-linejoin="round" transform="translate(-49.3 924.4) rotate(-90)"><path d="M236.8 149.6C237.1 150.7 237.9 153.7 238.7 156.4C239.5 159.1 240.7 162.9 241.7 165.9C242.7 168.9 243.8 172.1 244.7 174.6C245.6 177.1 246.9 180 247.4 181.1" stroke-width="7"/><path d="M247.4 181.1C247.9 179.8 249.3 176.3 250.4 173.5C251.5 170.7 252.9 167 254.2 164C255.5 161 256.9 157.8 258 155.3C259.1 152.8 260 150.6 261 149.2C262 147.8 263.6 147 264.1 146.6" stroke-width="7"/></g><g fill="none" color="#1e1e1e" stroke="#1e1e1e" stroke-width="6.3" stroke-linecap="round" stroke-linejoin="round" transform="translate(-1057.6 1439.3) rotate(-90)"><path d="M782.5 1173.6C783.5 1172.9 786.6 1170.2 788.6 1169.5C790.6 1168.8 792.4 1168.8 794.5 1169.1C796.6 1169.4 799.4 1170.3 801.4 1171.4C803.4 1172.5 805.8 1174.6 806.8 1175.9C807.8 1177.2 808 1178.1 807.7 1179.5C807.4 1180.9 806.4 1182.8 805 1184.1C803.6 1185.4 801.6 1186.5 799.5 1187.3C797.4 1188.1 794.5 1188.8 792.3 1188.9C790.1 1189 788 1188.7 786.4 1187.7C784.8 1186.8 783.4 1184.8 782.7 1183.2C782.1 1181.6 782.5 1179.8 782.5 1178.2C782.5 1176.6 782.5 1174.4 782.5 1173.6"/></g><g fill="none" color="#1e1e1e" stroke="#1e1e1e" stroke-width="6.3" stroke-linecap="round" stroke-linejoin="round" transform="translate(132.2 620) rotate(-90)"><path d="M0 -51.1C-0.1 -46.9 -0.6 -34 -0.5 -26C-0.4 -18 0.3 -7.4 0.8 -3C1.3 1.4 2.1 0.1 2.4 0.7"/></g><g fill="none" color="#1e1e1e" stroke="#1e1e1e" stroke-width="6.3" stroke-linecap="round" stroke-linejoin="round" transform="translate(-1057.6 1220.1) rotate(-90)"><path d="M619.3 1152.3C619.3 1154 619.4 1158.7 619.5 1162.7C619.6 1166.7 619.9 1172.6 620.2 1176.4C620.5 1180.2 620.6 1183.2 621.1 1185.5C621.6 1187.8 622.2 1189.6 623.2 1190.5C624.2 1191.4 625.4 1191.5 626.8 1191.1C628.2 1190.7 630.1 1189.3 631.4 1188.2C632.7 1187.1 633.8 1185.6 634.5 1184.5C635.2 1183.4 635.5 1182.1 635.7 1181.6"/><path d="M607 1165.5C608.4 1165.2 612.6 1164.2 615.5 1163.6C618.4 1163 621.9 1162.2 624.5 1161.8C627.1 1161.4 629.6 1161.1 631.4 1161C633.2 1160.9 634.8 1161 635.5 1161"/></g><g fill="none" color="#1e1e1e" stroke="#1e1e1e" stroke-width="6.3" stroke-linecap="round" stroke-linejoin="round" transform="translate(-1057.6 1220) rotate(-90)"><path d="M664.2 1170.9C663.1 1170.8 659.8 1170 657.7 1170.2C655.6 1170.4 653.6 1171 651.7 1172.2C649.8 1173.4 647.5 1175.5 646.4 1177.2C645.3 1178.9 644.8 1180.7 644.9 1182.3C645 1183.9 646 1185.8 647.1 1186.8C648.2 1187.8 650.1 1188.5 651.7 1188.4C653.4 1188.3 655.4 1187.6 657 1186.4C658.6 1185.2 660.3 1183.2 661.5 1181.5C662.7 1179.8 663.4 1177.8 664 1176.2C664.6 1174.6 664.8 1172.5 664.9 1171.7"/><path d="M664.9 1171.7C665.4 1172.3 666.7 1174.1 667.6 1175.6C668.5 1177.1 669.2 1179.2 670.2 1180.8C671.2 1182.4 672.2 1183.9 673.6 1185.3C675 1186.7 677.8 1188.5 678.6 1189.1"/></g><g fill="none" color="#1e1e1e" stroke="#1e1e1e" stroke-width="6.3" stroke-linecap="round" stroke-linejoin="round" transform="translate(-1057.6 1543.2) rotate(-90)"><path d="M1024.3 1174.1C1023.4 1173.9 1021 1172.4 1019 1172.8C1017 1173.2 1013.9 1174.8 1012.1 1176.2C1010.4 1177.7 1008.7 1179.8 1008.5 1181.5C1008.3 1183.2 1009.6 1185.3 1011.1 1186.3C1012.6 1187.3 1015.3 1187.6 1017.4 1187.4C1019.5 1187.2 1021.9 1186.4 1023.8 1185.2C1025.6 1184 1027.3 1182 1028.5 1180.5C1029.7 1179 1030.8 1176.9 1031.2 1176.2"/><path d="M1031.2 1176.2C1030.8 1177.6 1029.9 1181.5 1029.1 1184.7C1028.3 1187.9 1027.2 1191.8 1026.4 1195.3C1025.6 1198.8 1025 1203.1 1024.3 1205.9C1023.5 1208.7 1022.7 1210.8 1021.9 1212C1021.1 1213.2 1019.9 1213.1 1019.5 1213.3"/><path d="M1019.5 1213.3C1018.8 1212.8 1016.7 1211.4 1015.3 1210.1C1013.9 1208.8 1011.8 1206.2 1011.1 1205.4"/></g><g fill="none" color="#1e1e1e" stroke="#1e1e1e" stroke-width="6.3" stroke-linecap="round" stroke-linejoin="round" transform="translate(-1057.6 1224.6) rotate(-90)"><path d="M724.5 1177.3C725.3 1177.8 727.8 1179.5 729.5 1180C731.2 1180.5 732.9 1180.5 734.5 1180.2C736.1 1179.9 738 1179.2 739.1 1178.2C740.2 1177.2 741.2 1175.5 741.4 1174.1C741.5 1172.7 741 1171 740 1170C739 1169 737.2 1168.3 735.5 1168.2C733.8 1168.1 731.8 1168.5 730 1169.5C728.2 1170.5 726.1 1172.2 724.5 1174.1C722.9 1176 721.3 1178.9 720.5 1180.9C719.7 1183 719.4 1184.6 719.8 1186.4C720.2 1188.2 721.3 1190.3 722.7 1191.8C724.1 1193.3 726.2 1194.8 728.2 1195.5C730.2 1196.2 732.4 1196.2 734.5 1196.1C736.6 1196 738.8 1195.4 740.9 1194.8C743 1194.2 746.2 1193 747.3 1192.7"/></g><g fill="none" color="#1e1e1e" stroke="#1e1e1e" stroke-width="6.3" stroke-linecap="round" stroke-linejoin="round" transform="translate(-1057.6 1543.2) rotate(-90)"><path d="M1113.4 1144.9C1112.1 1146.2 1107.6 1149.3 1105.6 1152.5C1103.6 1155.7 1101.5 1160.4 1101.2 1164C1100.9 1167.6 1102 1170.9 1103.7 1174C1105.4 1177.1 1108.5 1180 1111.2 1182.8C1113.9 1185.6 1118.3 1189.7 1119.7 1191.1"/></g><g fill="none" color="#1e1e1e" stroke="#1e1e1e" stroke-width="6.3" stroke-linecap="round" stroke-linejoin="round" transform="translate(-49.3 652.9) rotate(-90)"><path d="M236.8 149.6C237.1 150.7 237.9 153.7 238.7 156.4C239.5 159.1 240.7 162.9 241.7 165.9C242.7 168.9 243.8 172.1 244.7 174.6C245.6 177.1 246.9 180 247.4 181.1" stroke-width="7"/><path d="M247.4 181.1C247.9 179.8 249.3 176.3 250.4 173.5C251.5 170.7 252.9 167 254.2 164C255.5 161 256.9 157.8 258 155.3C259.1 152.8 260 150.6 261 149.2C262 147.8 263.6 147 264.1 146.6" stroke-width="7"/></g><g fill="none" color="#1e1e1e" stroke="#1e1e1e" stroke-width="6.3" stroke-linecap="round" stroke-linejoin="round" transform="translate(-1057.6 1878.2) rotate(-90)"><path d="M1492.7 1145.3C1493.9 1147.2 1497.6 1152.3 1499.7 1156.8C1501.8 1161.3 1504.4 1167.8 1505.1 1172.1C1505.8 1176.3 1505.1 1179.6 1504.1 1182.3C1503.1 1185 1500.7 1186.6 1499 1188C1497.3 1189.4 1494.8 1190.1 1493.9 1190.5"/></g></svg></body></html>
